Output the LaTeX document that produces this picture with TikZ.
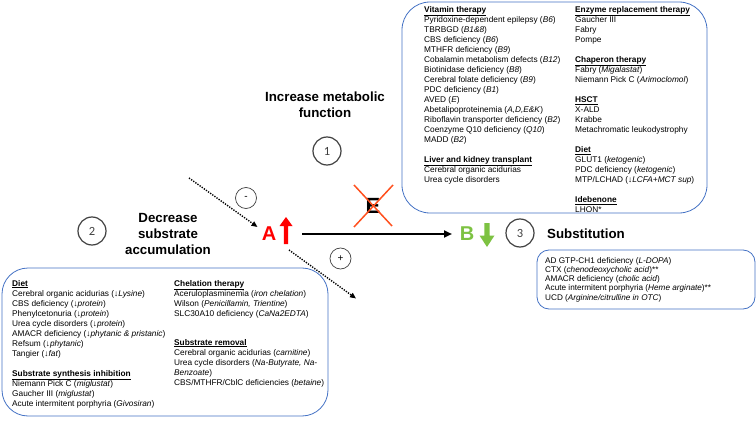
\documentclass[tikz,border=0pt]{standalone}
\usepackage{fontspec}
\setmainfont{Liberation Sans}
\newfontfamily\digitfont{Carlito}
\usetikzlibrary{arrows.meta}
\definecolor{boxblue}{RGB}{68,114,196}
\definecolor{xred}{RGB}{255,80,30}
\definecolor{agreen}{RGB}{125,194,66}
\definecolor{cgray}{RGB}{64,64,64}
\newcommand\myhead[1]{\underline{\textbf{#1}}}
\tikzset{
  txt/.style={anchor=base west, align=left, inner sep=0, font=\fontsize{8.3}{10}\selectfont},
  stxt/.style={anchor=base west, align=left, inner sep=0, font=\fontsize{8.2}{9.3}\selectfont},
  bigtitle/.style={anchor=base, align=center, inner sep=0, font=\fontsize{13.3}{15.8}\selectfont\bfseries},
  panel/.style={draw=boxblue, line width=0.8pt},
  numcirc/.style={circle, draw=cgray, line width=1.2pt, minimum size=28pt, inner sep=0, text=cgray, font=\digitfont\fontsize{12.5}{14}\selectfont},
  signcirc/.style={circle, draw=cgray, line width=0.7pt, minimum size=21pt, inner sep=0, text=black, font=\fontsize{10}{12}\selectfont},
  dotarrow/.style={line width=1.4pt, dash pattern=on 1.3pt off 1.3pt, -{Triangle[length=6pt,width=5pt]}},
  mainarrow/.style={line width=2pt, -{Triangle[length=8pt,width=7pt]}},
}
\begin{document}
\begin{tikzpicture}[x=1pt,y=-1pt]
\useasboundingbox (0,0) rectangle (756,436);

% panels
\draw[panel, rounded corners=28pt] (402,2) rectangle (707,213);
\draw[panel, rounded corners=26pt] (2,268) rectangle (328,416);
\draw[panel, rounded corners=12pt] (537,250) rectangle (755,309);

% top panel text (anchor = baseline of last line)
\node[txt] (vit) at (424,182.5) {\myhead{Vitamin therapy}\\
Pyridoxine-dependent epilepsy (\textit{B6})\\
TBRBGD (\textit{B1\&8})\\
CBS deficiency (\textit{B6})\\
MTHFR deficiency (\textit{B9})\\
Cobalamin metabolism defects (\textit{B12})\\
Biotinidase deficiency (\textit{B8})\\
Cerebral folate deficiency (\textit{B9})\\
PDC deficiency (\textit{B1})\\
AVED (\textit{E})\\
Abetalipoproteinemia (\textit{A,D,E\&K})\\
Riboflavin transporter deficiency (\textit{B2})\\
Coenzyme Q10 deficiency (\textit{Q10})\\
MADD (\textit{B2})\\[10pt]
\myhead{Liver and kidney transplant}\\
Cerebral organic acidurias\\
Urea cycle disorders};

\node[txt] (enz) at (575,212.5) {\myhead{Enzyme replacement therapy}\\
Gaucher III\\
Fabry\\
Pompe\\[10pt]
\myhead{Chaperon therapy}\\
Fabry (\textit{Migalastat})\\
Niemann Pick C (\textit{Arimoclomol})\\[10pt]
\myhead{HSCT}\\
X-ALD\\
Krabbe\\
Metachromatic leukodystrophy\\[10pt]
\myhead{Diet}\\
GLUT1 (\textit{ketogenic})\\
PDC deficiency (\textit{ketogenic})\\
MTP/LCHAD (\textit{↓LCFA+MCT sup})\\[10pt]
\myhead{Idebenone}\\
LHON*};

% bottom-left panel text
\node[txt] (diet) at (12,406) {\myhead{Diet}\\
Cerebral organic acidurias (↓\textit{Lysine})\\
CBS deficiency (↓\textit{protein})\\
Phenylcetonuria (↓\textit{protein})\\
Urea cycle disorders (↓\textit{protein})\\
AMACR deficiency (↓\textit{phytanic \& pristanic})\\
Refsum (↓\textit{phytanic})\\
Tangier (↓\textit{fat})\\[10pt]
\myhead{Substrate synthesis inhibition}\\
Niemann Pick C (\textit{miglustat})\\
Gaucher III (\textit{miglustat})\\
Acute intermitent porphyria (\textit{Givosiran})};

\node[txt] (chel) at (174,316) {\myhead{Chelation therapy}\\
Aceruloplasminemia (\textit{iron chelation})\\
Wilson (\textit{Penicillamin, Trientine})\\
SLC30A10 deficiency (\textit{CaNa2EDTA})};

\node[txt] (srem) at (174,385) {\myhead{Substrate removal}\\
Cerebral organic acidurias (\textit{carnitine})\\
Urea cycle disorders (\textit{Na-Butyrate, Na-}\\
\textit{Benzoate})\\
CBS/MTHFR/CblC deficiencies (\textit{betaine})};

% bottom-right panel text
\node[stxt] (subs) at (545,300.2) {AD GTP-CH1 deficiency (\textit{L-DOPA})\\
CTX (\textit{chenodeoxycholic acid})**\\
AMACR deficiency (\textit{cholic acid})\\
Acute intermitent porphyria (\textit{Heme arginate})**\\
UCD (\textit{Arginine/citrulline in OTC})};

% titles
\node[bigtitle] (t1) at (325,117.3) {Increase metabolic\\function};
\node[bigtitle] (t2) at (168,254) {Decrease\\substrate\\accumulation};
\node[bigtitle, anchor=base west] (t3) at (547,238) {Substitution};

% numbered circles
\node[numcirc] (c1) at (327,151) {1};
\node[numcirc] (c2) at (92,231) {2};
\node[numcirc] (c3) at (520,233) {3};

% sign circles
\node[signcirc] (cm) at (246,198) {-};
\node[signcirc] (cp) at (340.5,258.5) {+};

% A and B
\node[inner sep=0, text=red, font=\fontsize{20}{22}\selectfont\bfseries] (A) at (269,234) {A};
\node[inner sep=0, text=agreen, font=\fontsize{20}{22}\selectfont\bfseries] (B) at (467,234) {B};
\fill[red] (283.8,244) -- (283.8,226) -- (279.5,226) -- (286,217) -- (292.5,226) -- (288.2,226) -- (288.2,244) -- cycle;
\fill[agreen] (484.3,223) -- (484.3,235.5) -- (479.5,235.5) -- (487,247) -- (494.5,235.5) -- (489.7,235.5) -- (489.7,223) -- cycle;

% main arrow
\coordinate (ms) at (302,234);
\coordinate (me) at (452,234);
\draw[mainarrow] (ms) -- (me);

% enzyme with cross
\node[inner sep=0, font=\fontsize{22}{23}\selectfont\bfseries] (E) at (373,206) {E};
\draw[xred, line width=1.5pt] (354,185) -- (392,226);
\draw[xred, line width=1.5pt] (393,185) -- (354,227);

% dotted arrows
\coordinate (d1s) at (189,178);
\coordinate (d1e) at (257.5,227);
\draw[dotarrow] (d1s) -- (d1e);
\coordinate (d2s) at (289,250);
\coordinate (d2e) at (356,298.5);
\draw[dotarrow] (d2s) -- (d2e);
\end{tikzpicture}
\end{document}
